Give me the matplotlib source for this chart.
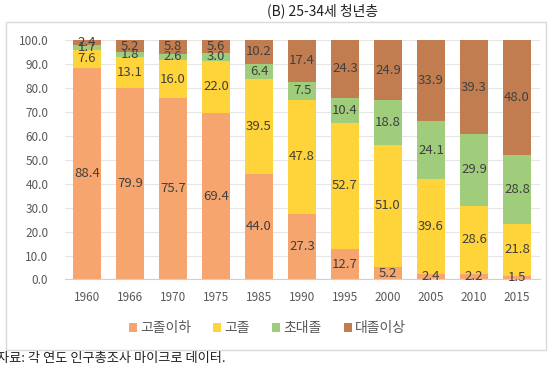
import matplotlib.pyplot as plt
import matplotlib.patches as patches
import numpy as np

plt.rcParams['font.family'] = ['Noto Sans CJK KR', 'DejaVu Sans']

years = ['1960', '1966', '1970', '1975', '1985', '1990', '1995', '2000', '2005', '2010', '2015']
below_hs = [88.4, 79.9, 75.7, 69.4, 44.0, 27.3, 12.7, 5.2, 2.4, 2.2, 1.5]
high_school = [7.6, 13.1, 16.0, 22.0, 39.5, 47.8, 52.7, 51.0, 39.6, 28.6, 21.8]
junior_college = [1.7, 1.8, 2.6, 3.0, 6.4, 7.5, 10.4, 18.8, 24.1, 29.9, 28.8]
university = [2.4, 5.2, 5.8, 5.6, 10.2, 17.4, 24.3, 24.9, 33.9, 39.3, 48.0]

series = [('고졸이하', below_hs, '#F7A56F'),
          ('고졸', high_school, '#FFD43B'),
          ('초대졸', junior_college, '#9FCD7C'),
          ('대졸이상', university, '#C17D4F')]

fig = plt.figure(figsize=(5.51, 3.75), dpi=100)

# 바깥 테두리
frame = patches.Rectangle((0.011, 0.067), 0.980, 0.875, transform=fig.transFigure,
                          fill=False, edgecolor='#d9d9d9', linewidth=1.0)
fig.patches.append(frame)

ax = fig.add_axes([0.118, 0.2547, 0.862, 0.6387])
x = np.arange(len(years))
bottom = np.zeros(len(years))
for name, vals, color in series:
    vals = np.array(vals)
    ax.bar(x, vals, bottom=bottom, width=0.67, color=color, label=name, zorder=2)
    for xi, b, v in zip(x, bottom, vals):
        ax.text(xi, b + v / 2, f'{v:.1f}', ha='center', va='center',
                fontsize=9.5, color='#404040', zorder=3)
    bottom += vals

ax.set_xlim(-0.512, 10.535)
ax.set_ylim(0, 100)
ax.set_yticks(np.arange(0, 101, 10))
ax.set_yticklabels([f'{v:.1f}' for v in np.arange(0, 101, 10)])
ax.set_xticks(x)
ax.set_xticklabels(years)
ax.tick_params(axis='both', length=0, labelsize=8.5, colors='#595959')
ax.tick_params(axis='y', pad=12)
ax.tick_params(axis='x', pad=8)
ax.grid(axis='y', color='#e6e6e6', linewidth=0.8, zorder=0)
for s in ['top', 'right', 'left']:
    ax.spines[s].set_visible(False)
ax.spines['bottom'].set_color('#d0d0d0')

fig.text(0.585, 0.972, '(B) 25-34세 청년층', ha='center', va='center',
         fontsize=10, color='#222222')

fig.legend(loc='center', bbox_to_anchor=(0.485, 0.125), ncol=4, frameon=False,
           handlelength=0.6, handleheight=0.6, handletextpad=0.2, columnspacing=1.6,
           fontsize=10, labelcolor='#595959')

fig.text(-0.006, 0.045, '자료: 각 연도 인구총조사 마이크로 데이터.', ha='left', va='center',
         fontsize=9.5, color='#222222')

fig.savefig('out.png', dpi=100)
